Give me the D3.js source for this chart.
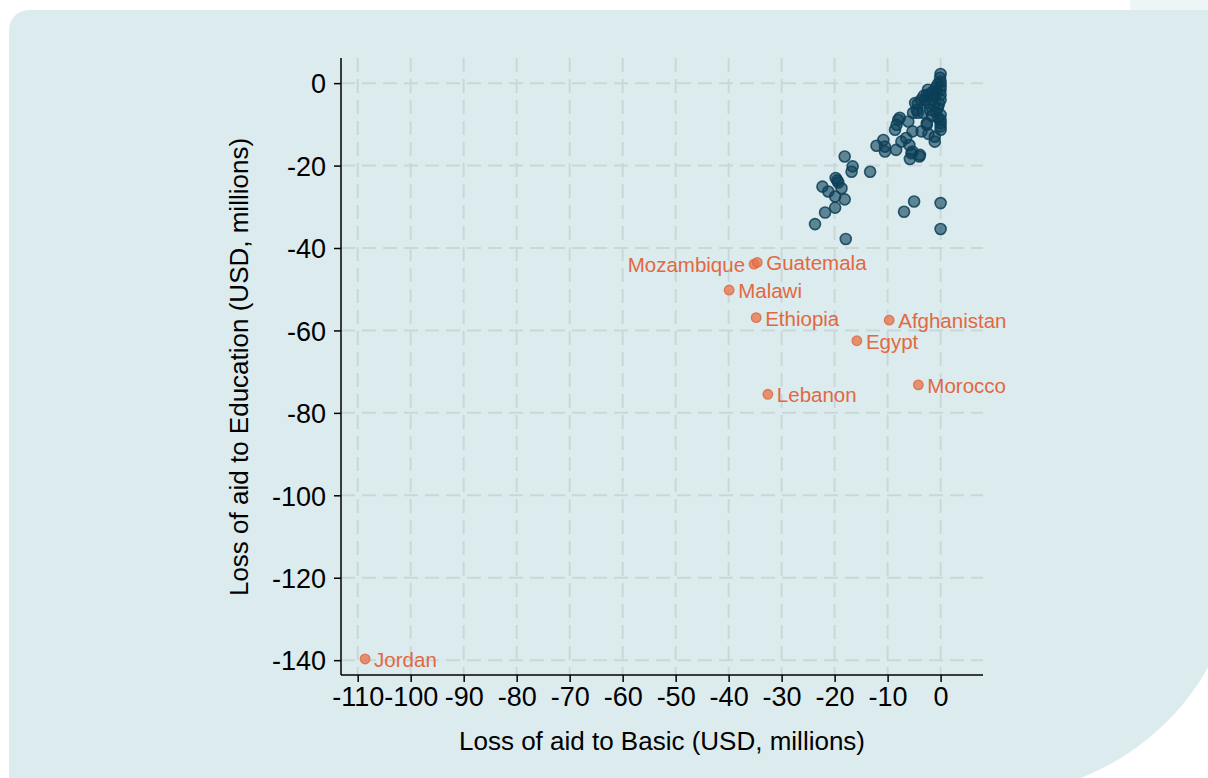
<!DOCTYPE html>
<html>
<head>
<meta charset="utf-8">
<script src="https://cdn.jsdelivr.net/npm/d3@7"></script>
<style>
  html, body { margin: 0; padding: 0; background: #ffffff; }
  svg { display: block; }
</style>
</head>
<body>
<svg id="chart" width="1208" height="778"></svg>
<script>
// ---------- data ----------
const xTicks = [-110, -100, -90, -80, -70, -60, -50, -40, -30, -20, -10, 0];
const yTicks = [0, -20, -40, -60, -80, -100, -120, -140];

// labelled (highlighted) countries
const labelNames = ["Jordan", "Mozambique", "Guatemala", "Malawi", "Ethiopia", "Afghanistan", "Egypt", "Morocco", "Lebanon"];
const labelBasic = [-108.6, -35.2, -34.6, -39.9, -34.8, -9.7, -15.8, -4.2, -32.6];
const labelEdu   = [-139.7, -43.9, -43.5, -50.2, -56.9, -57.5, -62.5, -73.2, -75.5];
const labelSide  = ["right", "left", "right", "right", "right", "right", "right", "right", "right"];

// other countries
const otherBasic = [0.0, -0.1, 0, 0, 0, 0, 0, -0.3, -0.5, -1.1, -1.6, -2.0, -2.6, -2.2, -3.0, -1.3, -2.0,
  -4.8, -4.5, -4.3, -3.3, -5.2, -2.6, 0, 0, 0, 0, 0, -8.0, -8.3, -8.6, -7.7, -6.1, -5.3, -3.6, -2.3,
  -1.1, -1.1, -10.8, -12.1, -10.5, -8.4, -7.4, -6.5, -5.9, -5.3, -5.8, -4.0, -18.1, -16.6, -16.8, -13.3,
  -19.5, -19.3, -19.8, -22.3, -21.2, -18.7, -19.9, -18.1, -19.9, -21.8, -23.7, -17.9, -5.0, -6.9, 0, 0,
  -2.6, -5.5, -3.9, -10.5, -0.7, -0.9, -0.5, -1.5, -2.4, -3.2, -3.7, -4.3, -0.9, -1.6, -0.5];
const otherEdu = [2.2, 1.3, 0.3, -0.7, -1.6, -2.8, -4.0, -5.0, -6.0, -3.1, -4.1, -2.8, -2.8, -4.8, -4.1, -5.5, -6.5,
  -4.8, -6.5, -7.2, -7.2, -7.2, -9.7, -7.7, -8.9, -9.7, -10.5, -11.3, -8.9, -10.1, -11.3, -8.4, -9.3, -11.7, -11.7, -12.3,
  -13.0, -14.2, -13.8, -15.2, -16.6, -16.2, -14.2, -13.3, -15.0, -16.6, -18.4, -17.8, -17.8, -20.2, -21.5, -21.5,
  -23.6, -24.1, -23.0, -25.1, -26.3, -25.5, -27.5, -28.2, -30.2, -31.4, -34.2, -37.8, -28.7, -31.2, -29.1, -35.4,
  -10.1, -17.0, -17.4, -15.4, -2.1, -1.1, -0.2, -2.1, -1.6, -3.1, -4.1, -5.0, -7.0, -7.9, -8.4];

const xTitle = "Loss of aid to Basic (USD, millions)";
const yTitle = "Loss of aid to Education (USD, millions)";

// ---------- drawing ----------
const svg = d3.select("#chart");
const FONT = "'Liberation Sans', Arial, Helvetica, sans-serif";

// background panel
svg.append("rect").attr("x", 1130).attr("y", -20).attr("width", 120).attr("height", 40)
  .attr("rx", 14).attr("fill", "#eef5f6");
const L = 9, T = 10, R = 1240, B = 795, r1 = 20, r2 = 250;
svg.append("path")
  .attr("d", `M${L},${T + r1} A${r1},${r1} 0 0 1 ${L + r1},${T} L${R},${T} L${R},${B - r2} A${r2},${r2} 0 0 1 ${R - r2},${B} L${L},${B} Z`)
  .attr("fill", "#dcebee");

const plot = { left: 341, right: 983, top: 58, bottom: 675 };
const x = d3.scaleLinear().domain([-113.15, 8]).range([plot.left, plot.right]);
const y = d3.scaleLinear().domain([6.1, -143.6]).range([plot.top, plot.bottom]);

// grid
const grid = svg.append("g").attr("stroke", "#c9d8d6").attr("stroke-width", 2).attr("stroke-dasharray", "14,7");
grid.selectAll("line.v").data(xTicks).join("line")
  .attr("x1", d => x(d)).attr("x2", d => x(d)).attr("y1", plot.top).attr("y2", plot.bottom);
grid.selectAll("line.h").data(yTicks).join("line")
  .attr("y1", d => y(d)).attr("y2", d => y(d)).attr("x1", plot.left).attr("x2", plot.right);

// axes
const fmt = d => String(d);
const xAxis = svg.append("g").attr("transform", `translate(0,${plot.bottom})`)
  .call(d3.axisBottom(x).tickValues(xTicks).tickFormat(fmt).tickSize(7).tickSizeOuter(0).tickPadding(5));
const yAxis = svg.append("g").attr("transform", `translate(${plot.left},0)`)
  .call(d3.axisLeft(y).tickValues(yTicks).tickFormat(fmt).tickSize(7).tickSizeOuter(0).tickPadding(8));
xAxis.select(".domain").attr("d", `M${plot.left},0H${plot.right}`);
yAxis.select(".domain").attr("d", `M0,${plot.top}V${plot.bottom}`);
[xAxis, yAxis].forEach(g => {
  g.select(".domain").attr("stroke", "#000").attr("stroke-width", 1.5);
  g.selectAll(".tick line").attr("stroke", "#000").attr("stroke-width", 1.5);
  g.selectAll(".tick text").attr("font-family", FONT).attr("font-size", 27).attr("fill", "#000");
});
yAxis.selectAll(".tick text").attr("dy", "0.36em");

// axis titles
svg.append("text").attr("x", 662).attr("y", 750)
  .attr("text-anchor", "middle").attr("font-family", FONT).attr("font-size", 26).attr("fill", "#000")
  .text(xTitle);
svg.append("text").attr("transform", `translate(248,367) rotate(-90)`)
  .attr("text-anchor", "middle").attr("font-family", FONT).attr("font-size", 26).attr("fill", "#000")
  .text(yTitle);

// other points
const others = otherBasic.map((b, i) => ({ b, e: otherEdu[i] }));
svg.append("g").selectAll("circle").data(others).join("circle")
  .attr("cx", d => x(d.b)).attr("cy", d => y(d.e)).attr("r", 5.5)
  .attr("fill", "#0c3f58").attr("fill-opacity", 0.6)
  .attr("stroke", "#0c3f58").attr("stroke-opacity", 0.85).attr("stroke-width", 1.6);

// labelled points
const labelled = labelNames.map((n, i) => ({ n, b: labelBasic[i], e: labelEdu[i], side: labelSide[i] }));
svg.append("g").selectAll("circle").data(labelled).join("circle")
  .attr("cx", d => x(d.b)).attr("cy", d => y(d.e)).attr("r", 4.8)
  .attr("fill", "#e8714a").attr("fill-opacity", 0.75)
  .attr("stroke", "#e0653c").attr("stroke-opacity", 0.8).attr("stroke-width", 1.3);
svg.append("g").selectAll("text").data(labelled).join("text")
  .attr("x", d => d.side === "right" ? x(d.b) + 9 : x(d.b) - 9)
  .attr("y", d => y(d.e) + 8)
  .attr("text-anchor", d => d.side === "right" ? "start" : "end")
  .attr("font-family", FONT).attr("font-size", 20.5).attr("fill", "#e2683f")
  .text(d => d.n);
</script>
</body>
</html>
